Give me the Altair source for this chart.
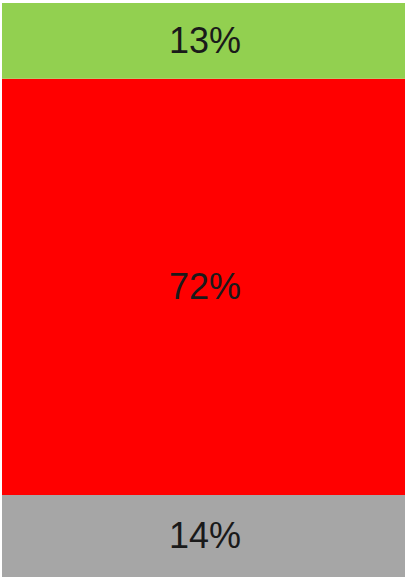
import altair as alt
import pandas as pd

categories = ["Bottom", "Middle", "Top"]
values = [14.3, 72.5, 13.2]
labels = ["14%", "72%", "13%"]
colors = ["#A6A6A6", "#FF0000", "#92D050"]
order = [0, 1, 2]

df = pd.DataFrame({"cat": categories, "val": values, "label": labels, "ord": order})

W, H = 403, 574

base = alt.Chart(df).transform_stack(
    stack="val", groupby=[], as_=["y0", "y1"], sort=[alt.SortField("ord")]
).transform_calculate(mid="(datum.y0 + datum.y1) / 2")

yscale = alt.Scale(domain=[0, 100], nice=False, zero=True)

bars = base.mark_bar(stroke=None).encode(
    x=alt.value(0),
    x2=alt.value(W),
    y=alt.Y("y0:Q", scale=yscale, axis=None),
    y2="y1:Q",
    color=alt.Color("cat:N", scale=alt.Scale(domain=categories, range=colors), legend=None),
)

text = base.mark_text(font="Liberation Sans", fontSize=36, color="#1a1a1a", baseline="middle", dy=1).encode(
    x=alt.value(W / 2 + 1.5),
    y=alt.Y("mid:Q", scale=yscale, axis=None),
    text="label:N",
)

chart = alt.layer(bars, text).properties(
    width=W, height=H,
    autosize=alt.AutoSizeParams(type="none"),
    padding={"left": 2, "top": 3, "right": 0, "bottom": 0},
).configure_view(stroke=None)

chart.save("out.html", embed_options={"renderer": "svg", "actions": False})
